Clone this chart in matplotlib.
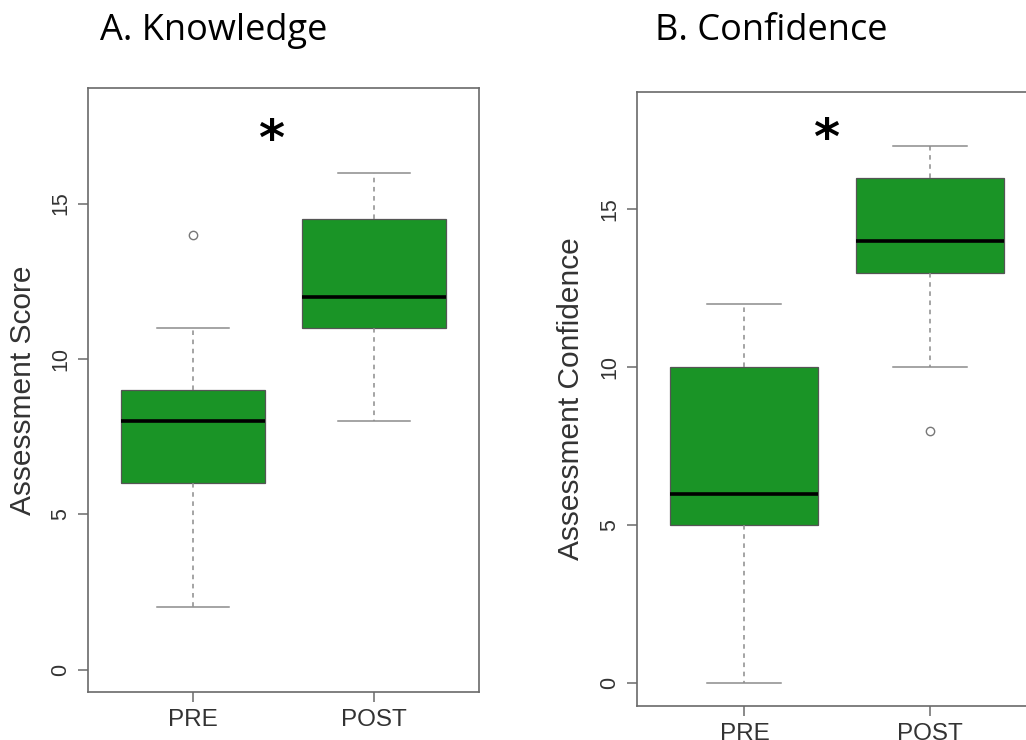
import matplotlib.pyplot as plt

# group labels
groups = ['PRE', 'POST']

# Knowledge: assessment score summary (low whisker, Q1, median, Q3, high whisker)
know_low = [2, 8]
know_q1 = [6, 11]
know_med = [8, 12]
know_q3 = [9, 14.5]
know_high = [11, 16]
know_out = [[14], []]

# Confidence: assessment confidence summary
conf_low = [0, 10]
conf_q1 = [5, 13]
conf_med = [6, 14]
conf_q3 = [10, 16]
conf_high = [12, 17]
conf_out = [[], [8]]

box_green = '#1a9426'
axis_grey = '#6a6a6a'
text_grey = '#333333'


def make_stats(low, q1, med, q3, high, out):
    stats = []
    for i in range(len(groups)):
        stats.append({'whislo': low[i], 'q1': q1[i], 'med': med[i],
                      'q3': q3[i], 'whishi': high[i], 'fliers': out[i],
                      'label': groups[i]})
    return stats


def draw_panel(ax, stats, ylabel, label_x, star_x, star_y):
    ax.bxp(stats, positions=[1, 2], widths=0.8, patch_artist=True,
           boxprops=dict(facecolor=box_green, edgecolor='#555555', linewidth=0.9),
           medianprops=dict(color='black', linewidth=2.6, solid_capstyle='butt'),
           whiskerprops=dict(color='#8c8c8c', linewidth=1.1, linestyle=(0, (3, 3))),
           capprops=dict(color='#8c8c8c', linewidth=1.1),
           capwidths=0.4,
           flierprops=dict(marker='o', markersize=6, markerfacecolor='none',
                           markeredgecolor='#777777', markeredgewidth=1.0))
    ax.set_xlim(0.42, 2.58)
    ax.set_ylim(-0.72, 18.72)
    ax.set_yticks([0, 5, 10, 15])
    ax.set_xticks([1, 2])
    ax.set_xticklabels(groups)
    for s in ax.spines.values():
        s.set_color(axis_grey)
        s.set_linewidth(1.2)
    ax.tick_params(direction='out', length=7, width=1.1, color=axis_grey,
                   labelcolor=text_grey, pad=5)
    ax.tick_params(axis='x', labelsize=17.5)
    ax.tick_params(axis='y', labelsize=15.5)
    for lab in ax.get_yticklabels():
        lab.set_rotation(90)
        lab.set_va('center')
    for lab in ax.get_xticklabels() + ax.get_yticklabels():
        lab.set_family('Liberation Sans')
    ax.set_ylabel(ylabel, fontsize=21.5, color=text_grey, family='Liberation Sans',
                  va='center')
    ax.yaxis.set_label_coords(label_x, 0.5)
    # significance marker
    ax.text(star_x, star_y, '*', fontsize=36, fontweight='bold', ha='center',
            va='center', family='DejaVu Sans', color='black')


fig = plt.figure(figsize=(10.26, 7.40), dpi=100)

ax1 = fig.add_axes([88 / 1026, 1 - 692 / 740, 391 / 1026, 604 / 740])
draw_panel(ax1, make_stats(know_low, know_q1, know_med, know_q3, know_high, know_out),
           'Assessment Score', -0.166, 1.43, 17.0)

ax2 = fig.add_axes([637 / 1026, 1 - 706 / 740, 400 / 1026, 614 / 740])
draw_panel(ax2, make_stats(conf_low, conf_q1, conf_med, conf_q3, conf_high, conf_out),
           'Assessment Confidence', -0.165, 1.44, 17.2)
ax2.spines['right'].set_visible(False)

fig.text(100 / 1026, 1 - 40 / 740, 'A. Knowledge', fontsize=26, family='Open Sans',
         ha='left', va='baseline', color='black')
fig.text(655 / 1026, 1 - 40 / 740, 'B. Confidence', fontsize=26, family='Open Sans',
         ha='left', va='baseline', color='black')

fig.savefig('out.png', dpi=100)
